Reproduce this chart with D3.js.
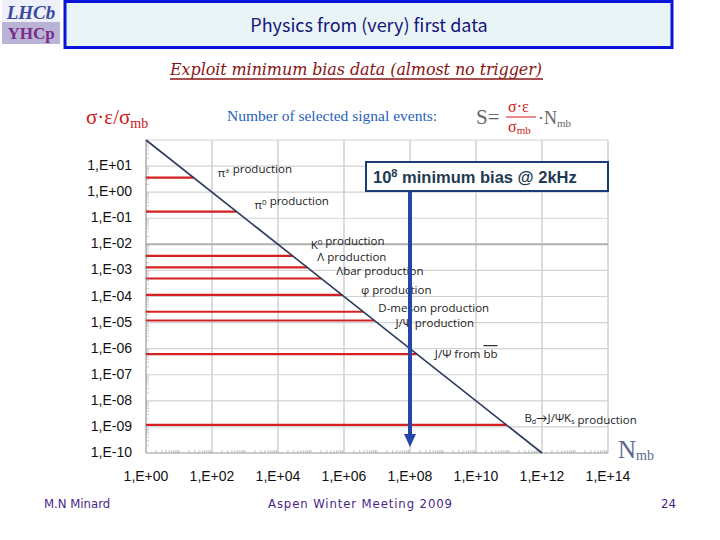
<!DOCTYPE html>
<html><head><meta charset="utf-8">
<script src="https://cdn.jsdelivr.net/npm/d3@7"></script>
<style>body{margin:0;background:#fff}svg{display:block}</style>
</head><body>
<svg id="c" width="720" height="540"></svg>
<script>
// ---- data ----
const channels = ["π± production","π0 production","K0 production","Λ production","Λbar production","φ production","D-meson production","J/Ψ production","J/Ψ from bb","Bd→J/ΨKs production"];
const sigmaEffRatio = [3.6, 0.18, 3.6e-3, 1.3e-3, 4.9e-4, 1.15e-4, 2.6e-5, 1.2e-5, 6.2e-7, 1.2e-9];
const reachN = [1, 1e12];          // N_mb at ends of the S=100 line
const reachRatio = [1e2, 1e-10];   // sigma*eps/sigma_mb at ends
const minBiasN = 1e8;
const xTicks = [1e0,1e2,1e4,1e6,1e8,1e10,1e12,1e14];
const xTickLabels = ["1,E+00","1,E+02","1,E+04","1,E+06","1,E+08","1,E+10","1,E+12","1,E+14"];
const yTicks = [1e1,1e0,1e-1,1e-2,1e-3,1e-4,1e-5,1e-6,1e-7,1e-8,1e-9,1e-10];
const yTickLabels = ["1,E+01","1,E+00","1,E-01","1,E-02","1,E-03","1,E-04","1,E-05","1,E-06","1,E-07","1,E-08","1,E-09","1,E-10"];
// label layout offsets (px) relative to line end
const labelDx = [24,18,18,10,15,19,15,21,18,18];
const labelDy = [-5,-7,-11,-10,-7,-5,-4,2,0,-7];

const svg = d3.select("#c");
const x = d3.scaleLog().domain([1,1e14]).range([146,608]);
const y = d3.scaleLog().domain([1e-10,1e2]).range([453,140]);

// ---- header ----
const logo = svg.append("g");
logo.append("rect").attr("x",2).attr("y",0).attr("width",58).attr("height",44).attr("fill","#b9b4d6");
logo.append("rect").attr("x",2).attr("y",0).attr("width",58).attr("height",22).attr("fill","#eef0fa");
logo.append("text").attr("x",31).attr("y",19).attr("text-anchor","middle").attr("font-family","Liberation Serif").attr("font-style","italic").attr("font-weight","bold").attr("font-size",19).attr("fill","#3a4aa0").text("LHCb");
logo.append("text").attr("x",31).attr("y",39).attr("text-anchor","middle").attr("font-family","Liberation Serif").attr("font-size",17).attr("fill","#7a2a8a").attr("font-weight","bold").text("YHCp");

svg.append("rect").attr("x",65).attr("y",1.5).attr("width",607).attr("height",46).attr("fill","#e9f4f7").attr("stroke","#0a14d8").attr("stroke-width",3);
svg.append("text").attr("x",369).attr("y",32).attr("text-anchor","middle").attr("font-family","'Noto Sans CJK JP', 'DejaVu Sans'").attr("font-size",18).attr("fill","#15157a").text("Physics from (very) first data");

svg.append("text").attr("x",356).attr("y",75).attr("text-anchor","middle").attr("font-family","'DejaVu Serif'").attr("font-style","italic").attr("font-size",16).attr("fill","#8a1515").attr("textLength",372).text("Exploit minimum bias data (almost no trigger)");
svg.append("line").attr("x1",170).attr("x2",543).attr("y1",79).attr("y2",79).attr("stroke","#8a1515").attr("stroke-width",1.5);

// y-axis title
svg.append("text").attr("x",86).attr("y",124).attr("font-family","'Liberation Serif'").attr("font-size",21).attr("fill","#d01818")
  .html('σ·ε/σ<tspan font-size="14" dy="4">mb</tspan>');
svg.append("text").attr("x",227).attr("y",121).attr("font-family","'Liberation Serif'").attr("font-size",15.5).attr("fill","#1f5fbf").text("Number of selected signal events:");
svg.append("text").attr("x",476).attr("y",124).attr("font-family","'Liberation Serif'").attr("font-size",21).attr("fill","#666").text("S=");
svg.append("text").attr("x",508).attr("y",112).attr("font-family","'Liberation Serif'").attr("font-size",16).attr("fill","#d01818").text("σ·ε");
svg.append("line").attr("x1",506).attr("x2",536).attr("y1",117).attr("y2",117).attr("stroke","#d01818").attr("stroke-width",1);
svg.append("text").attr("x",508).attr("y",132).attr("font-family","'Liberation Serif'").attr("font-size",16).attr("fill","#d01818").html('σ<tspan font-size="11" dy="2">mb</tspan>');
svg.append("text").attr("x",538).attr("y",124).attr("font-family","'Liberation Serif'").attr("font-size",18).attr("fill","#666").html('·N<tspan font-size="11" dy="3">mb</tspan>');

// ---- grid ----
const g = svg.append("g");
g.selectAll(".vg").data(xTicks.slice(1)).join("line")
  .attr("x1",d=>x(d)).attr("x2",d=>x(d)).attr("y1",y(1e2)).attr("y2",y(1e-10))
  .attr("stroke","#c4c4c4").attr("stroke-width",1.2);
g.selectAll(".hg").data(yTicks.concat([1e2]).filter(d=>d!==1e-10)).join("line")
  .attr("x1",x(1)).attr("x2",x(1e14)).attr("y1",d=>y(d)).attr("y2",d=>y(d))
  .attr("stroke",d=>(d===1e-2?"#b0b0b0":"#d2d2d2")).attr("stroke-width",d=>(d===1e-2?2:1.2));

// minor ticks
const yMinor = [];
for (let e=-10;e<2;e++) for (let m=2;m<10;m++) yMinor.push(m*Math.pow(10,e));
g.selectAll(".ym").data(yMinor).join("line").attr("x1",x(1)).attr("x2",x(1)+3).attr("y1",d=>y(d)).attr("y2",d=>y(d)).attr("stroke","#bbb").attr("stroke-width",0.7);
const xMinor = [];
for (let e=0;e<14;e+=2) for (let m=1;m<100;m++) { if (m===1) continue; if (m<10 || m%10===0) xMinor.push(m*Math.pow(10,e)); }
g.selectAll(".xm").data(xMinor).join("line").attr("x1",d=>x(d)).attr("x2",d=>x(d)).attr("y1",y(1e-10)).attr("y2",y(1e-10)-3).attr("stroke","#aaa").attr("stroke-width",0.7);

// axes lines
g.append("line").attr("x1",x(1)).attr("x2",x(1)).attr("y1",y(1e2)).attr("y2",y(1e-10)).attr("stroke","#999").attr("stroke-width",1.2);
g.append("line").attr("x1",x(1)).attr("x2",x(1e14)).attr("y1",y(1e-10)).attr("y2",y(1e-10)).attr("stroke","#999").attr("stroke-width",1.2);

// tick labels
g.selectAll(".xl").data(xTicks).join("text").attr("x",d=>x(d)).attr("y",481).attr("text-anchor","middle")
  .attr("font-family","'Liberation Sans', Arial").attr("font-size",14).attr("fill","#111").text((d,i)=>xTickLabels[i]);
g.selectAll(".yl").data(yTicks).join("text").attr("x",132).attr("y",d=>y(d)+4).attr("text-anchor","end")
  .attr("font-family","'Liberation Sans', Arial").attr("font-size",14).attr("fill","#111").text((d,i)=>yTickLabels[i]);

// red lines
const endN = v => reachRatio[0]*reachN[0]/v;
g.selectAll(".rl").data(sigmaEffRatio).join("line")
  .attr("x1",x(1)).attr("x2",d=>x(endN(d))).attr("y1",d=>y(d)).attr("y2",d=>y(d))
  .attr("stroke","#d42020").attr("stroke-width",2.2);

// diagonal S=100 line
const diag = reachN.map((n,i)=>[n,reachRatio[i]]);
g.append("path").datum(diag).attr("d",d3.line().x(d=>x(d[0])).y(d=>y(d[1])))
  .attr("stroke","#2c3a5c").attr("stroke-width",1.6).attr("fill","none");

// channel labels (with sub/superscripts)
const markup = s => s
  .replace("π±", 'π<tspan font-size="8" dy="-4">±</tspan><tspan dy="4"></tspan>')
  .replace("π0", 'π<tspan font-size="8" dy="-4">0</tspan><tspan dy="4"></tspan>')
  .replace("K0", 'K<tspan font-size="8" dy="-4">0</tspan><tspan dy="4"></tspan>')
  .replace("from bb", 'from <tspan text-decoration="overline">bb</tspan>')
  .replace("Bd→J/ΨKs", 'B<tspan font-size="7" dy="2">d</tspan><tspan dy="-2">→J/ΨK</tspan><tspan font-size="7" dy="2">s</tspan><tspan dy="-2"></tspan>');
g.selectAll(".cl").data(channels).join("text")
  .attr("x",(d,i)=>x(endN(sigmaEffRatio[i]))+labelDx[i]).attr("y",(d,i)=>y(sigmaEffRatio[i])+labelDy[i]+4)
  .attr("font-family","'Open Sans', Lato").attr("font-size",11.5).attr("fill","#222").html(d=>markup(d));

// N_mb label
svg.append("text").attr("x",618).attr("y",458).attr("font-family","'Liberation Serif'").attr("font-size",25).attr("fill","#5a6890").html('N<tspan font-size="14" dy="2">mb</tspan>');

// blue arrow
svg.append("line").attr("x1",x(minBiasN)).attr("x2",x(minBiasN)).attr("y1",190).attr("y2",438).attr("stroke","#2346a8").attr("stroke-width",4);
svg.append("path").attr("d",`M${x(minBiasN)-6},434 L${x(minBiasN)+6},434 L${x(minBiasN)},447 Z`).attr("fill","#2346a8");

// box
svg.append("rect").attr("x",366).attr("y",162).attr("width",242).attr("height",29).attr("fill","#fff").attr("stroke","#1c3c78").attr("stroke-width",2);
svg.append("text").attr("x",373).attr("y",183).attr("font-family","'Liberation Sans', Arial").attr("font-weight","bold").attr("font-size",16.5).attr("fill","#1f3a52")
  .html('10<tspan font-size="11" dy="-6">8</tspan><tspan dy="6"> minimum bias @ 2kHz</tspan>');

// footer
const ff = "'DejaVu Sans Condensed', 'DejaVu Sans'";
svg.append("text").attr("x",44).attr("y",508).attr("font-family",ff).attr("font-size",13).attr("fill","#4a1f8a").text("M.N Minard");
svg.append("text").attr("x",268).attr("y",508).attr("font-family",ff).attr("font-size",13).attr("fill","#4a1f8a").attr("textLength",184).text("Aspen Winter Meeting 2009");
svg.append("text").attr("x",676).attr("y",508).attr("text-anchor","end").attr("font-family",ff).attr("font-size",13).attr("fill","#4a1f8a").text("24");
</script>
</body></html>
